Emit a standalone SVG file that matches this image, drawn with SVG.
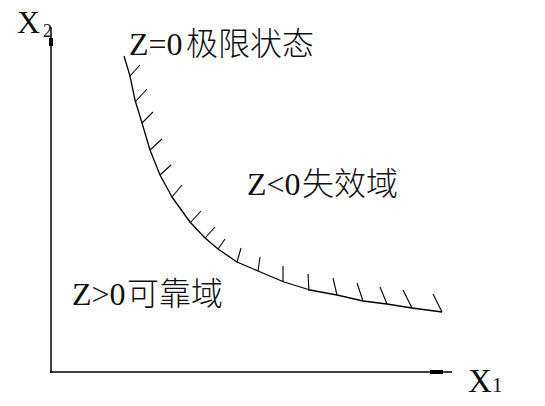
<svg xmlns="http://www.w3.org/2000/svg" width="545" height="406" viewBox="0 0 545 406">
<style>
.t{font-family:"Liberation Serif","Times New Roman",serif;fill:#111;}
.c{font-family:"Noto Sans CJK SC","Noto Sans CJK JP",sans-serif;font-weight:300;fill:#111;}
.ax{stroke:#000;stroke-width:1.5;fill:none;}
.cv{stroke:#000;stroke-width:1.3;fill:none;stroke-linejoin:round;}
.tk{stroke:#000;stroke-width:1.1;}
</style>
<rect width="545" height="406" fill="#fff"/>
<g id="axes">
<line class="ax" x1="51" y1="27" x2="51" y2="373"/>
<rect x="49" y="38" width="4" height="8" fill="#000"/>
<line class="ax" x1="50" y1="372" x2="452" y2="372"/>
<rect x="430" y="370" width="13" height="4" fill="#000"/>
</g>
<g id="curve">
<polyline class="cv" points="124,56 130,76 135,100 142,123 150,150 160,175 172,197 190,222 205,238 218,249 237,262 258,271 284,282 310,290 337,295 363,301 387,304 412,308 442,312"/>
<g id="hatch">
<line class="tk" x1="130" y1="76" x2="140" y2="65"/>
<line class="tk" x1="135" y1="102" x2="147" y2="89"/>
<line class="tk" x1="142" y1="123" x2="153" y2="112"/>
<line class="tk" x1="150" y1="150" x2="162" y2="139"/>
<line class="tk" x1="160" y1="175" x2="171" y2="165"/>
<line class="tk" x1="172" y1="197" x2="182" y2="185"/>
<line class="tk" x1="190" y1="223" x2="201" y2="211"/>
<line class="tk" x1="205" y1="238" x2="215" y2="227"/>
<line class="tk" x1="218" y1="249" x2="225" y2="239"/>
<line class="tk" x1="237" y1="262" x2="241" y2="248"/>
<line class="tk" x1="258" y1="271" x2="260" y2="257"/>
<line class="tk" x1="283" y1="282" x2="283" y2="266"/>
<line class="tk" x1="309" y1="291" x2="308" y2="274"/>
<line class="tk" x1="337" y1="295" x2="333" y2="278"/>
<line class="tk" x1="363" y1="301" x2="357" y2="283"/>
<line class="tk" x1="387" y1="304" x2="380" y2="287"/>
<line class="tk" x1="412" y1="308" x2="403" y2="290"/>
<line class="tk" x1="442" y1="312" x2="433" y2="294"/>
</g>
</g>
<g id="labels">
<text class="t" x="17" y="33" font-size="32">X</text>
<text class="t" x="43" y="37" font-size="18">2</text>
<text class="t" x="468" y="392" font-size="33">X</text>
<text class="t" x="492" y="392" font-size="21">1</text>
<g id="limit-state"><text class="t" x="129" y="55" font-size="32">Z=0</text><text class="c" x="186" y="55" font-size="32">极限状态</text></g>
<g id="failure"><text class="t" x="247" y="195" font-size="32">Z&lt;0</text><text class="c" x="302" y="195" font-size="32">失效域</text></g>
<g id="safe"><text class="t" x="72" y="305" font-size="32">Z&gt;0</text><text class="c" x="127" y="305" font-size="32">可靠域</text></g>
</g>
</svg>
